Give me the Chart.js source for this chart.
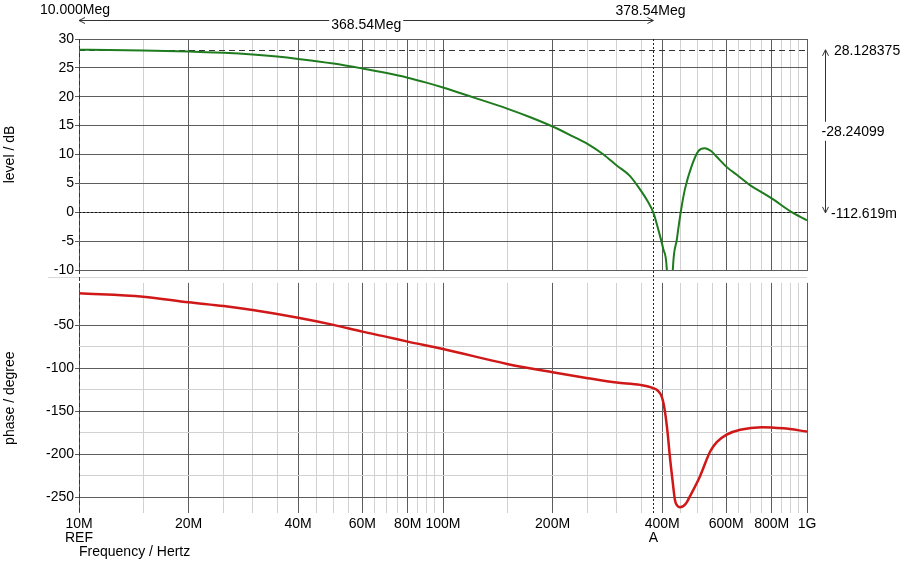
<!DOCTYPE html>
<html>
<head>
<meta charset="utf-8">
<script src="https://cdn.jsdelivr.net/npm/chart.js@4.4.1/dist/chart.umd.min.js"></script>
<style>
  html, body { margin: 0; padding: 0; background: #fff; }
  #wrap { width: 900px; height: 561px; overflow: hidden; }
  canvas { display: block; }
</style>
</head>
<body>
<div id="wrap"><canvas id="bode" width="900" height="561"></canvas></div>
<script>
const MEG = 1e6;

// level trace, frequency in MHz
const magFreqM = [10, 12, 15, 20, 25, 30, 35, 40, 50, 60, 70, 80, 90, 100, 121, 150, 173, 200, 228, 250,
                  276, 300, 326, 350, 365, 378.54, 390, 403, 412, 416, 420, 424, 428, 439, 450, 462, 482, 503, 524, 545,
                  565, 600, 650, 697, 750, 800, 898, 1000];
const magDb = [28.13, 28.1, 28.03, 27.85, 27.6, 27.3, 26.95, 26.55, 25.75, 24.9, 24.1, 23.3, 22.45, 21.6, 19.9, 17.95, 16.5, 14.85, 13.1, 11.8,
               10.0, 8.1, 6.3, 3.7, 1.9, -0.11, -2.9, -6.4, -9.9, -18, -30, -18, -9.9, -4.7, 0.05, 4.0, 8.0, 10.6, 11.1, 10.6,
               9.6, 7.9, 6.2, 4.7, 3.5, 2.4, 0.2, -1.4];

// phase trace, frequency in MHz
const phaseFreqM = [10, 15, 20, 25, 30, 40, 50, 60, 70, 80, 100, 150, 200, 250, 300, 348, 378.54, 390, 397, 402,
                    407, 414, 420, 427, 434, 440, 448, 465, 477, 508, 542, 565, 600, 655, 750, 861, 1000];
const phaseDeg = [-12.8, -16.7, -23.2, -27.6, -32.2, -41.2, -49.5, -57.4, -63.5, -69, -77.6, -95, -104.7, -111.6, -116.7, -119.4, -123.3, -126.5, -131, -138,
                  -150, -175, -203, -230, -254, -260, -262, -257.5, -249, -226, -197, -186, -177.6, -171.7, -168.6, -170, -173.7];

// axes
const freqMajorM = [10, 20, 40, 60, 80, 100, 200, 400, 600, 800, 1000];
const freqLabels = ['10M', '20M', '40M', '60M', '80M', '100M', '200M', '400M', '600M', '800M', '1G'];
const freqMinorM = [15, 25, 30, 35, 45, 50, 55, 65, 70, 75, 85, 90, 95,
                    150, 250, 300, 350, 450, 500, 550, 650, 700, 750, 850, 900, 950];
const levelTicks = [-10, -5, 0, 5, 10, 15, 20, 25, 30];
const phaseMajor = [-250, -200, -150, -100, -50];
const phaseMinor = [-225, -175, -125, -75];

// cursors
const refFreqM = 10.000;
const cursorFreqM = 378.54;
const refLevel = 28.128375;
const cursorLevel = -0.112619;

const FONT_FAMILY = '"Liberation Sans", Arial, sans-serif';
const FONT_CSS = '14px ' + FONT_FAMILY;
const MAJOR = '#5c5c5c';
const MINOR = '#d2d2d2';
const phaseGridTop = -1.2;   // phase panel grid starts here, above it is the gap between panels

Chart.defaults.font.family = FONT_FAMILY;
Chart.defaults.font.size = 14;
Chart.defaults.color = '#000';

const isMajorFreq = v => freqMajorM.some(f => Math.abs(f * MEG - v) < 1);

const arrowHead = (ctx, x, y, dx, dy) => {
  // open arrow head pointing along (dx, dy)
  const len = 6, half = 3;
  const px = -dy, py = dx;
  ctx.beginPath();
  ctx.moveTo(x - dx * len + px * half, y - dy * len + py * half);
  ctx.lineTo(x, y);
  ctx.lineTo(x - dx * len - px * half, y - dy * len - py * half);
  ctx.stroke();
};

const bodePlugin = {
  id: 'bode',
  beforeDatasetsDraw(chart) {
    const {ctx, chartArea: ca, scales} = chart;
    const yL = scales.yLevel, yP = scales.yPhase, xs = scales.x;
    const gapTop = yL.bottom;
    const gapBot = yP.getPixelForValue(phaseGridTop);
    ctx.save();
    // blank space between the two panels
    ctx.fillStyle = '#fff';
    ctx.fillRect(ca.left - 1, gapTop + 1, ca.width + 2, gapBot - gapTop - 1.5);
    ctx.strokeStyle = '#d8d8d8';
    ctx.lineWidth = 1;
    const sy = Math.round((gapTop + gapBot) / 2) + 0.5;
    ctx.beginPath(); ctx.moveTo(48, sy); ctx.lineTo(ca.right, sy); ctx.stroke();

    // reference level (dashed) and cursor level (dotted)
    ctx.strokeStyle = '#333';
    ctx.setLineDash([6, 4]);
    let y = Math.round(yL.getPixelForValue(refLevel)) + 0.5;
    ctx.beginPath(); ctx.moveTo(ca.left, y); ctx.lineTo(ca.right, y); ctx.stroke();
    ctx.strokeStyle = '#111';
    ctx.setLineDash([2, 2]);
    y = Math.round(yL.getPixelForValue(cursorLevel)) - 0.5;
    ctx.beginPath(); ctx.moveTo(ca.left, y); ctx.lineTo(ca.right, y); ctx.stroke();

    // cursor A (dotted) and REF (dashed) verticals
    let x = Math.round(xs.getPixelForValue(cursorFreqM * MEG)) + 0.5;
    ctx.strokeStyle = '#222';
    ctx.beginPath(); ctx.moveTo(x, ca.top); ctx.lineTo(x, ca.bottom); ctx.stroke();
    x = Math.round(xs.getPixelForValue(refFreqM * MEG)) + 0.5;
    ctx.setLineDash([4, 3]);
    ctx.strokeStyle = '#333';
    ctx.beginPath(); ctx.moveTo(x, ca.top); ctx.lineTo(x, ca.bottom); ctx.stroke();
    ctx.restore();
  },
  beforeDatasetDraw(chart, args) {
    const {ctx, chartArea: ca} = chart;
    const ys = chart.scales[args.meta.yAxisID];
    ctx.save();
    ctx.beginPath();
    ctx.rect(ca.left, ys.top, ca.width, ys.bottom - ys.top);
    ctx.clip();
  },
  afterDatasetDraw(chart) {
    chart.ctx.restore();
  },
  afterDraw(chart) {
    const {ctx, chartArea: ca, scales} = chart;
    const xs = scales.x, yL = scales.yLevel, yP = scales.yPhase;
    const xRef = xs.getPixelForValue(refFreqM * MEG);
    const xCur = xs.getPixelForValue(cursorFreqM * MEG);
    const yRef = yL.getPixelForValue(refLevel);
    const yCur = yL.getPixelForValue(cursorLevel);

    ctx.save();
    ctx.font = FONT_CSS;
    ctx.fillStyle = '#000';
    ctx.strokeStyle = '#333';
    ctx.lineWidth = 1;

    // frequency readout on top
    ctx.textBaseline = 'alphabetic';
    ctx.textAlign = 'left';
    ctx.fillText(refFreqM.toFixed(3) + 'Meg', xRef - 39, 14);
    ctx.textAlign = 'center';
    ctx.fillText(cursorFreqM.toFixed(2) + 'Meg', xCur - 3, 15);

    const ay = 20.5;
    const diffTxt = (cursorFreqM - refFreqM).toFixed(2) + 'Meg';
    const mx = (xRef + xCur) / 2;
    const w = ctx.measureText(diffTxt).width;
    ctx.beginPath();
    ctx.moveTo(xRef, ay); ctx.lineTo(mx - w / 2 - 2, ay);
    ctx.moveTo(mx + w / 2 + 2, ay); ctx.lineTo(xCur, ay);
    ctx.stroke();
    arrowHead(ctx, xRef, ay, -1, 0);
    arrowHead(ctx, xCur, ay, 1, 0);
    ctx.fillText(diffTxt, mx, 28.5);

    // level readout on the right
    const ax = Math.round(ca.right + 18) + 0.5;
    const my = (yRef + yCur) / 2;
    ctx.beginPath();
    ctx.moveTo(ax, yRef); ctx.lineTo(ax, my - 9.5);
    ctx.moveTo(ax, my + 9.5); ctx.lineTo(ax, yCur);
    ctx.stroke();
    arrowHead(ctx, ax, yRef, 0, -1);
    arrowHead(ctx, ax, yCur, 0, 1);
    ctx.textAlign = 'left';
    ctx.fillText(refLevel.toFixed(6), ca.right + 27, yRef + 5.5);
    ctx.fillText((cursorLevel - refLevel).toFixed(5), ca.right + 14.5, my + 5);
    ctx.fillText((cursorLevel * 1000).toFixed(3) + 'm', ca.right + 24, yCur + 5);

    // cursor names under the frequency axis
    ctx.textAlign = 'center';
    ctx.fillText('REF', xRef, 542);
    ctx.fillText('A', xCur, 542);

    // panel titles
    ctx.textBaseline = 'middle';
    const titles = [['level / dB', (yL.top + yL.bottom) / 2],
                    ['phase / degree', (yP.getPixelForValue(phaseGridTop) + yP.bottom) / 2]];
    for (const [txt, cy] of titles) {
      ctx.save();
      ctx.translate(10.5, cy);
      ctx.rotate(-Math.PI / 2);
      ctx.fillText(txt, 0, 0);
      ctx.restore();
    }
    ctx.restore();
  }
};

new Chart(document.getElementById('bode').getContext('2d'), {
  type: 'line',
  data: {
    datasets: [{
      label: 'level',
      data: magFreqM.map((f, i) => ({x: f * MEG, y: magDb[i]})),
      yAxisID: 'yLevel',
      borderColor: '#1e7b1e',
      borderWidth: 2,
      pointRadius: 0,
      cubicInterpolationMode: 'monotone'
    }, {
      label: 'phase',
      data: phaseFreqM.map((f, i) => ({x: f * MEG, y: phaseDeg[i]})),
      yAxisID: 'yPhase',
      borderColor: '#d01818',
      borderWidth: 2.5,
      pointRadius: 0,
      cubicInterpolationMode: 'monotone'
    }]
  },
  options: {
    responsive: false,
    animation: false,
    events: [],
    layout: { padding: { top: 39, right: 93, left: 0, bottom: 0 } },
    plugins: { legend: { display: false }, tooltip: { enabled: false } },
    scales: {
      x: {
        type: 'logarithmic',
        position: 'bottom',
        min: 10 * MEG,
        max: 1000 * MEG,
        afterBuildTicks: s => {
          s.ticks = freqMajorM.concat(freqMinorM).sort((a, b) => a - b).map(f => ({value: f * MEG}));
        },
        afterFit: s => { s.height = 48; },
        border: { display: false },
        grid: {
          drawTicks: false,
          color: c => (c.tick && isMajorFreq(c.tick.value)) ? MAJOR : MINOR
        },
        ticks: {
          autoSkip: false,
          maxRotation: 0,
          minRotation: 0,
          padding: 3,
          callback: v => {
            const i = freqMajorM.findIndex(f => Math.abs(f * MEG - v) < 1);
            return i >= 0 ? freqLabels[i] : '';
          }
        },
        title: { display: true, text: 'Frequency / Hertz', align: 'start', padding: { top: 0, bottom: 0 } }
      },
      yLevel: {
        type: 'linear',
        position: 'left',
        stack: 'bode',
        stackWeight: 231,
        weight: 1,
        min: -10,
        max: 30,
        afterBuildTicks: s => { s.ticks = levelTicks.map(v => ({value: v})); },
        afterFit: s => { s.width = 79; },
        border: { display: false },
        grid: { color: MAJOR, tickColor: MAJOR, tickLength: 4 },
        ticks: { autoSkip: false, padding: 1, callback: v => String(v) }
      },
      yPhase: {
        type: 'linear',
        position: 'left',
        stack: 'bode',
        stackWeight: 243,
        weight: 0,
        min: -268.6,
        max: 14.4,
        afterBuildTicks: s => {
          s.ticks = phaseMajor.concat(phaseMinor).sort((a, b) => a - b).map(v => ({value: v}));
        },
        afterFit: s => { s.width = 79; },
        border: { display: false },
        grid: {
          color: c => (c.tick && phaseMajor.includes(c.tick.value)) ? MAJOR : MINOR,
          tickColor: c => (c.tick && phaseMajor.includes(c.tick.value)) ? MAJOR : 'rgba(0,0,0,0)',
          tickLength: 4
        },
        ticks: { autoSkip: false, padding: 1, callback: v => phaseMajor.includes(v) ? String(v) : '' }
      }
    }
  },
  plugins: [bodePlugin]
});
</script>
</body>
</html>
